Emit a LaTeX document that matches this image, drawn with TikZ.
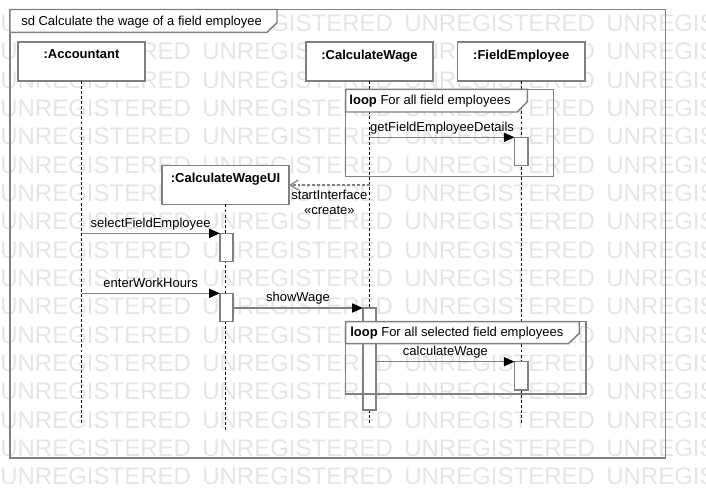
\documentclass[tikz,border=0pt]{standalone}
\usepackage{fontspec}
\setmainfont{Liberation Sans}
\usepackage{tikz}
\usetikzlibrary{arrows.meta}
\usetikzlibrary{positioning}
\definecolor{linegray}{RGB}{128,128,128}
\definecolor{wmgray}{RGB}{229,229,229}
\tikzset{>={Triangle[length=8pt,width=6.8pt,color=black,fill=black]}}

\begin{document}
\begin{tikzpicture}[
        x=0.75pt, y=-0.75pt,
        node distance=120.5pt,
        every node/.style={font=\fontsize{9.75pt}{11.8pt}\selectfont},
        watermark/.style={anchor=base west,inner sep=0pt,text=wmgray,font=\fontsize{18pt}{20pt}\selectfont},
        head/.style={draw=linegray,fill=white,line width=1.1pt,minimum width=95.5pt,minimum height=29.25pt,outer sep=0pt},
        headtext/.style={anchor=north,inner sep=0pt,yshift=-5.5pt,font=\fontsize{9.75pt}{11.8pt}\selectfont\bfseries},
        lifeline/.style={black,line width=0.75pt,dash pattern=on 2.2pt off 1.6pt},
        act/.style={draw=linegray,fill=white,line width=1.1pt,minimum width=10pt,minimum height=21.3pt,anchor=north,outer sep=0pt,inner sep=0pt},
        frag/.style={draw=linegray,line width=1.1pt,anchor=north west,outer sep=0pt,inner sep=0pt},
        tab/.style={draw=linegray,fill=white,line width=1.1pt},
        fragtext/.style={anchor=west,inner sep=0pt,text height=7pt,text depth=2pt},
        msg/.style={draw=linegray,line width=1pt,->},
        create/.style={draw=linegray,line width=0.9pt,dash pattern=on 2.2pt off 1.5pt,-{Straight Barb[length=6pt,width=7.5pt]}},
        msglabel/.style={above,black,inner sep=2pt,text height=7pt,text depth=2pt}
    ]
    \useasboundingbox (0,0) rectangle (706,498);

    \begin{scope}
        \clip (0,0) rectangle (706,498);
        \foreach \r in {0,...,16}
            \foreach \c in {0,...,3}
                \node[watermark] (wm-\r-\c) at (202*\c,31.6+28.33*\r) {UNREGISTERED};
    \end{scope}

    \node[frag,minimum width=491.8pt,minimum height=336.2pt] (frame) at (10,9.5) {};
    \draw[tab] (frame.north west) -- ++(267,0) -- ++(0,13.2) -- ++(-10,9.6) -- ++(-257,0) -- cycle;
    \node[fragtext] (title) at ([shift={(11,12.8)}]frame.north west) {sd Calculate the wage of a field employee};

    \node[head,label={[headtext]north:{:Accountant}}] (acc) at (81.5,61.5) {};
    \node[head,right=of acc,label={[headtext]north:{:CalculateWage}}] (cw) {};
    \node[head,right=18.3pt of cw,label={[headtext]north:{:FieldEmployee}}] (fe) {};
    \node[head,label={[headtext]north:{:CalculateWageUI}}] (ui) at (225.5,185) {};

    \coordinate (acc-end) at (acc.south |- 0,424);
    \coordinate (cw-end)  at (cw.south |- 0,424);
    \coordinate (fe-end)  at (fe.south |- 0,424);
    \coordinate (ui-end)  at (ui.south |- 0,431);
    \draw[lifeline] (acc.south) -- (acc-end);
    \draw[lifeline] (cw.south) -- (cw-end);
    \draw[lifeline] (fe.south) -- (fe-end);
    \draw[lifeline] (ui.south) -- (ui-end);

    \node[act] (fe-a1) at (fe.south |- 0,137.3) {};
    \node[act] (ui-a1) at (226.5,233.3) {};
    \node[act] (ui-a2) at (226.5,293.3) {};
    \node[act,minimum height=76.5pt] (cw-a) at (cw.south |- 0,308) {};
    \node[act] (fe-a2) at (fe.south |- 0,361.7) {};

    \node[frag,minimum width=155.7pt,minimum height=65.5pt] (loop1) at (345.7,89.3) {};
    \draw[tab] (loop1.north west) -- ++(181.6,0) -- ++(0,12.4) -- ++(-10,10.3) -- ++(-171.6,0) -- cycle;
    \node[fragtext] (loop1-text) at ([shift={(3.5,12)}]loop1.north west) {\textbf{loop} For all field employees};

    \node[frag,minimum width=180.2pt,minimum height=54.2pt] (loop2) at (345.7,321.7) {};
    \draw[tab] (loop2.north west) -- ++(233.6,0) -- ++(0,11.6) -- ++(-11,10.4) -- ++(-222.6,0) -- cycle;
    \node[fragtext] (loop2-text) at ([shift={(4.3,11.9)}]loop2.north west) {\textbf{loop} For all selected field employees};

    \draw[msg] (cw.south |- fe-a1.north west) -- node[msglabel] {getFieldEmployeeDetails} (fe-a1.north west);
    \draw[create] (cw.south |- ui.east) -- node[below,black,align=center,inner sep=3pt] {startInterface\\«create»} (ui.east);
    \draw[msg] (acc.south |- ui-a1.north west) -- node[msglabel] {selectFieldEmployee} (ui-a1.north west);
    \draw[msg] (acc.south |- ui-a2.north west) -- node[msglabel] {enterWorkHours} (ui-a2.north west);
    \draw[msg] (ui-a2.north east |- cw-a.north west) -- node[msglabel] {showWage} (cw-a.north west);
    \draw[msg] (cw-a.north east |- fe-a2.north west) -- node[msglabel] {calculateWage} (fe-a2.north west);
\end{tikzpicture}
\end{document}
